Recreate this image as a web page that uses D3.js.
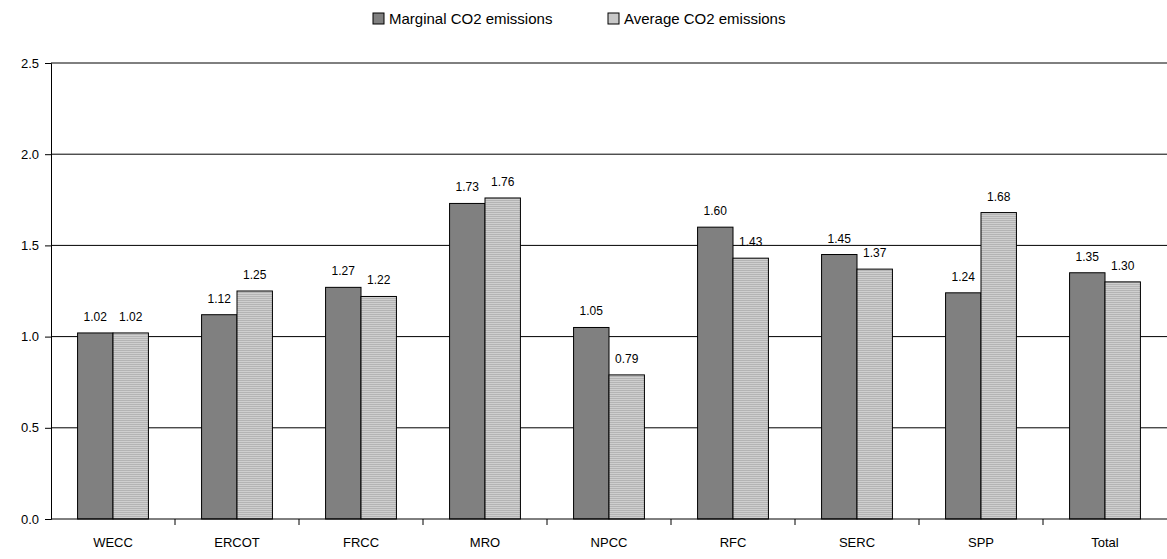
<!DOCTYPE html>
<html><head><meta charset="utf-8">
<script src="https://cdn.jsdelivr.net/npm/d3@7"></script>
<style>body{margin:0;background:#fff}text{font-family:"Liberation Sans",Arial,sans-serif}</style>
</head><body>
<script>
const regions = ["WECC","ERCOT","FRCC","MRO","NPCC","RFC","SERC","SPP","Total"];
const marginal = [1.02,1.12,1.27,1.73,1.05,1.60,1.45,1.24,1.35];
const average = [1.02,1.25,1.22,1.76,0.79,1.43,1.37,1.68,1.30];
const seriesNames = ["Marginal CO2 emissions","Average CO2 emissions"];
const yTicks = [0,0.5,1.0,1.5,2.0,2.5];

const W = 1167, H = 559;
const svg = d3.select("body").append("svg").attr("width", W).attr("height", H);
const defs = svg.append("defs");
const pat = defs.append("pattern").attr("id","hatch").attr("width",4).attr("height",2)
  .attr("patternUnits","userSpaceOnUse");
pat.append("rect").attr("width",4).attr("height",2).attr("fill","#cfcfcf");
pat.append("rect").attr("width",4).attr("height",1).attr("fill","#b4b4b4");

const x = d3.scaleBand().domain(regions).range([51, 1167]);
const y = d3.scaleLinear().domain([0, 2.5]).range([519, 63]);
const x1 = d3.scaleBand().domain([0,1]).range([0, x.bandwidth()]).paddingOuter(0.75).paddingInner(0);

// gridlines
svg.append("g").selectAll("line").data(yTicks.slice(1)).join("line")
  .attr("x1", 51).attr("x2", 1167).attr("y1", d => y(d)).attr("y2", d => y(d))
  .attr("stroke", "#000").attr("stroke-width", 1);

const fills = ["#808080", "url(#hatch)"];
const data = [marginal, average];
regions.forEach((r, i) => {
  [0,1].forEach(s => {
    const v = data[s][i];
    const bx = x(r) + x1(s);
    svg.append("rect").attr("x", bx).attr("y", y(v))
      .attr("width", x1.bandwidth()).attr("height", y(0) - y(v))
      .attr("fill", fills[s]).attr("stroke", "#000").attr("stroke-width", 1);
    svg.append("text").attr("x", bx + x1.bandwidth()/2).attr("y", y(v) - 12)
      .attr("text-anchor", "middle").attr("font-size", 12).text(v.toFixed(2));
  });
});

const yAxis = svg.append("g").attr("transform", "translate(51,0)")
  .call(d3.axisLeft(y).tickValues(yTicks).tickFormat(d3.format(".1f")).tickSize(6).tickPadding(6));
yAxis.select(".domain").attr("stroke", "#000");
yAxis.selectAll("text").attr("font-size", 13).attr("fill", "#000");

const xg = svg.append("g").attr("transform", "translate(0,519)");
xg.append("line").attr("x1", 51).attr("x2", 1167).attr("stroke", "#000");
xg.selectAll("line.t").data(regions.slice(1)).join("line").attr("class","t")
  .attr("x1", d => x(d)).attr("x2", d => x(d)).attr("y1", 0).attr("y2", 6).attr("stroke", "#000");
xg.selectAll("text").data(regions).join("text")
  .attr("x", d => x(d) + x.bandwidth()/2).attr("y", 28)
  .attr("text-anchor", "middle").attr("font-size", 13).text(d => d);

// legend
const lg = svg.append("g").attr("transform", "translate(373,12)");
const lx = [0, 235];
seriesNames.forEach((n, i) => {
  lg.append("rect").attr("x", lx[i]).attr("y", 1).attr("width", 11).attr("height", 11)
    .attr("fill", i ? "#c8c8c8" : "#808080").attr("stroke", "#000");
  lg.append("text").attr("x", lx[i] + 16).attr("y", 12).attr("font-size", 15).text(n);
});
</script>
</body></html>
